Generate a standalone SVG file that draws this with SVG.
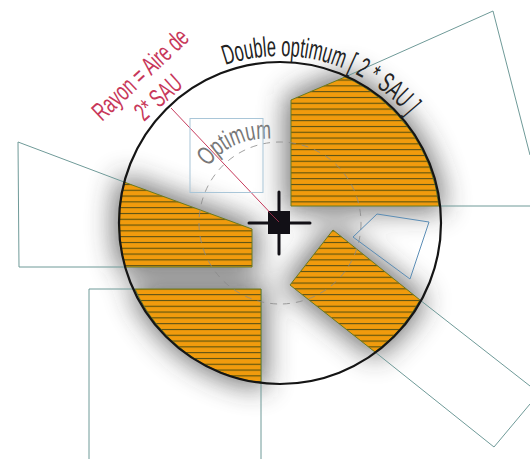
<svg xmlns="http://www.w3.org/2000/svg" width="530" height="459" viewBox="0 0 530 459">
<style>
.outline{fill:none;stroke:#6f9a98;stroke-width:1}
.field{fill:url(#hatch);stroke:#6b7a1e;stroke-width:1}
.shadow{fill:#333;stroke:#333;stroke-width:10}
.lbl{font-family:"Liberation Sans",Arial,sans-serif}
</style>
<defs>
<pattern id="hatch" patternUnits="userSpaceOnUse" width="10" height="5.8" y="2.2">
<rect width="10" height="5.8" fill="#f19b08"/>
<rect width="10" height="1" y="2" fill="#4a4a14"/>
</pattern>
<filter id="blur" x="-40%" y="-40%" width="180%" height="180%"><feGaussianBlur stdDeviation="14"/></filter>
<filter id="soft" x="-5%" y="-5%" width="110%" height="110%"><feGaussianBlur stdDeviation="0.4"/></filter>
<path id="arcBig" d="M225.300,65.200 A167,167 0 0 1 409,117"/>
<path id="arcOpt" d="M208,167 Q233,136 274,139"/>
</defs>
<rect width="530" height="459" fill="#fff"/>
<g id="shadows" filter="url(#blur)" opacity=".7">
<path class="shadow" d="M291,100 L345,77 A161,161 0 0 1 439,206 L291,206Z"/>
<path class="shadow" d="M124,182 L252,229 L252,267 L125,267 A161,161 0 0 1 124,182Z"/>
<path class="shadow" d="M135,289 L261,289 L261,383 A161,161 0 0 1 135,289Z"/>
<path class="shadow" d="M333,230 L420,300 A161,161 0 0 1 375,352 L290,285Z"/>
</g>
<g id="connectors" filter="url(#soft)">
<path class="outline" d="M345,77 L493,11 L530,155"/>
<path class="outline" d="M439,206 L530,206"/>
<path class="outline" d="M124,182 L18,142 L19,267 L125,267"/>
<path class="outline" d="M135,289 L89,289 L89,459"/>
<path class="outline" d="M261,289 L261,459"/>
<path class="outline" d="M420,300 L530,386"/>
<path class="outline" d="M375,352 L494,447 L530,404"/>
<path d="M171,108 L279,222" fill="none" stroke="#c63a5c" stroke-width="1"/>
</g>
<g id="field-top-right" filter="url(#soft)"><path class="field" d="M291,100 L345,77 A161,161 0 0 1 439,206 L291,206Z"/></g>
<g id="field-left" filter="url(#soft)"><path class="field" d="M124,182 L252,229 L252,267 L125,267 A161,161 0 0 1 124,182Z"/></g>
<g id="field-bottom" filter="url(#soft)"><path class="field" d="M135,289 L261,289 L261,383 A161,161 0 0 1 135,289Z"/></g>
<g id="field-bottom-right" filter="url(#soft)"><path class="field" d="M333,230 L420,300 A161,161 0 0 1 375,352 L290,285Z"/></g>
<g id="double-optimum">
<circle cx="280" cy="223" r="161" fill="none" stroke="#151515" stroke-width="2.2"/>
<text class="lbl" font-size="28" fill="#222"><textPath href="#arcBig" textLength="201" lengthAdjust="spacingAndGlyphs">Double optimum [ 2 * SAU ]</textPath></text>
</g>
<g id="optimum">
<circle cx="280" cy="223" r="81" fill="none" stroke="#8a8a8a" stroke-width="1" stroke-dasharray="7 6" opacity=".8"/>
<text class="lbl" font-size="26" fill="#777"><textPath href="#arcOpt" textLength="72" lengthAdjust="spacingAndGlyphs">Optimum</textPath></text>
</g>
<g id="square"><rect x="190" y="118.500" width="73" height="74" fill="none" stroke="#a9c6d8" stroke-width="1"/></g>
<g id="quad"><path d="M377,214 L429,222 L410,279 L353,237Z" fill="none" stroke="#5b8db5" stroke-width="1"/></g>
<g id="cross">
<rect x="268" y="211" width="22" height="23" fill="#121016"/>
<path d="M279,192 L279,254 M249,223 L310,223" stroke="#121016" stroke-width="3" stroke-linecap="round"/>
<path d="M268,211 L279,222" stroke="#c63a5c" stroke-width="1" opacity=".7"/>
</g>
<g id="rayon" fill="#c8385a">
<text class="lbl" font-size="26" transform="translate(102,122) rotate(-43)" textLength="121" lengthAdjust="spacingAndGlyphs">Rayon = Aire de</text>
<text class="lbl" font-size="26" transform="translate(144,122) rotate(-42)" textLength="54" lengthAdjust="spacingAndGlyphs">2* SAU</text>
</g>
</svg>
